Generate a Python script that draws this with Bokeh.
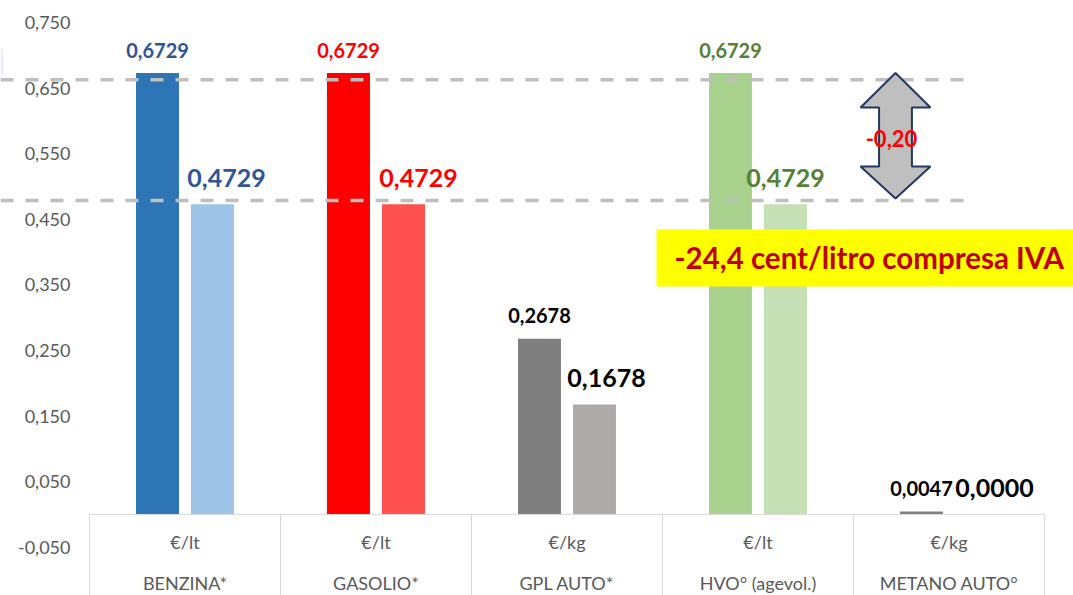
from bokeh.plotting import figure
from bokeh.models import ColumnDataSource, FixedTicker, CustomJSTickFormatter, Range1d
from bokeh.core.properties import value
from bokeh.embed import file_html
from bokeh.resources import INLINE

# ---------------- data ----------------
categories = ["BENZINA*", "GASOLIO*", "GPL AUTO*", "HVO° (agevol.)", "METANO AUTO°"]
units = ["€/lt", "€/lt", "€/kg", "€/lt", "€/kg"]
price_before = [0.6729, 0.6729, 0.2678, 0.6729, 0.0047]
price_after = [0.4729, 0.4729, 0.1678, 0.4729, 0.0000]
y_ticks = [-0.05, 0.05, 0.15, 0.25, 0.35, 0.45, 0.55, 0.65, 0.75]
note_text = "-24,4 cent/litro compresa IVA"

# ---------------- styles ----------------
colors_before = ["#2E75B6", "#FF0000", "#7F7F7F", "#A9D18E", "#7F7F7F"]
colors_after = ["#9DC3E6", "#FF5050", "#AEAAAA", "#C5E0B4", "#FFFFFF"]
label_colors = ["#2F5597", "#FF0000", "#000000", "#548235", "#000000"]
after_label_dx = [14, 15, 12, 0, 18]
FONT = value("Lato")
BAR_W = 0.225
DODGE = 0.144
X0, X1 = -0.466, 5.152
Y0, Y1 = -0.1235, 0.7835

def fmt(v, d=4):
    return f"{v:.{d}f}".replace(".", ",")

n = len(categories)
centers = [i + 0.5 for i in range(n)]

src = ColumnDataSource(dict(
    xc=centers,
    x1=[c - DODGE for c in centers],
    x2=[c + DODGE for c in centers],
    before=price_before,
    after=price_after,
    c1=colors_before,
    c2=colors_after,
    lc=label_colors,
    dx=after_label_dx,
    t1=[fmt(v) for v in price_before],
    t2=[fmt(v) for v in price_after],
    unit=units,
    name=categories,
))

p = figure(width=1073, height=595,
           x_range=Range1d(X0, X1), y_range=Range1d(Y0, Y1),
           output_backend="svg", toolbar_location=None,
           x_axis_location=None, min_border=0,
           outline_line_color=None, background_fill_color="white",
           border_fill_color="white")
p.xgrid.visible = False
p.ygrid.visible = False

ax = p.yaxis[0]
ax.fixed_location = 0
ax.ticker = FixedTicker(ticks=y_ticks)
ax.formatter = CustomJSTickFormatter(code="return tick.toFixed(3).replace('.', ',')")
ax.axis_line_color = None
ax.major_tick_line_color = None
ax.minor_tick_line_color = None
ax.major_tick_out = 0
ax.major_tick_in = 0
ax.major_label_standoff = 19
ax.major_label_text_font = "Lato"
ax.major_label_text_font_size = "18px"
ax.major_label_text_color = "#595959"

# faint sliver at the left edge
p.quad(left=[X0], right=[-0.450], top=[0.710], bottom=[0.669], fill_color="#ECEEF8", line_color=None)

# bars
p.vbar(x="x1", top="before", bottom=0, width=BAR_W, color="c1", line_color=None, source=src)
p.vbar(x="x2", top="after", bottom=0, width=BAR_W, color="c2", line_color=None, source=src)

# reference dashed levels
levels = [0.6627, 0.4787]
p.segment(x0=[X0] * 2, x1=[4.639] * 2, y0=levels, y1=levels,
          line_color="#BFBFBF", line_width=3.5, line_dash="13 12")

# double arrow annotation
ax_c, hw, sw = 4.22, 0.183, 0.086
y_top, y_hb1, y_hb2, y_bot = 0.6729, 0.6204, 0.5305, 0.4817
p.patch(x=[ax_c, ax_c + hw, ax_c + sw, ax_c + sw, ax_c + hw, ax_c, ax_c - hw, ax_c - sw, ax_c - sw, ax_c - hw],
        y=[y_top, y_hb1, y_hb1, y_hb2, y_hb2, y_bot, y_hb2, y_hb2, y_hb1, y_hb1],
        fill_color="#BFBFBF", line_color="#1F3864", line_width=2)
delta = price_after[0] - price_before[0]
p.text(x=[4.199], y=[0.573], text=[fmt(delta, 2)], text_font=FONT, text_font_size="22px",
       text_font_style="bold", text_color="#FF0000", text_align="center", text_baseline="middle")

# yellow note box
p.quad(left=[2.969], right=[X1], top=[0.4345], bottom=[0.3476], fill_color="#FFFF00", line_color=None)
p.text(x=[3.063], y=[0.391], text=[note_text], text_font=FONT, text_font_size="29.5px",
       text_font_style="bold", text_color="#C00000", text_align="left", text_baseline="middle")

# category table
p.segment(x0=[0], x1=[n], y0=[0], y1=[0], line_color="#D9D9D9", line_width=1)
p.segment(x0=list(range(n + 1)), x1=list(range(n + 1)), y0=[0] * (n + 1), y1=[Y0] * (n + 1),
          line_color="#D9D9D9", line_width=1)
p.text(x="xc", y=-0.0427, text="unit", source=src, text_font=FONT, text_font_size="18px",
       text_color="#595959", text_align="center", text_baseline="middle")
p.text(x="xc", y=-0.1052, text="name", source=src, text_font=FONT, text_font_size="18px",
       text_color="#595959", text_align="center", text_baseline="middle")

# value labels
p.text(x="x1", y="before", text="t1", source=src, text_font=FONT, text_font_size="20px",
       text_font_style="bold", text_color="lc", text_align="center", text_baseline="middle",
       y_offset=-23)
p.text(x="x2", y="after", text="t2", source=src, text_font=FONT, text_font_size="25px",
       text_font_style="bold", text_color="lc", text_align="center", text_baseline="middle",
       x_offset="dx", y_offset=-26.5)

open("out.html", "w").write(file_html(p, INLINE))
